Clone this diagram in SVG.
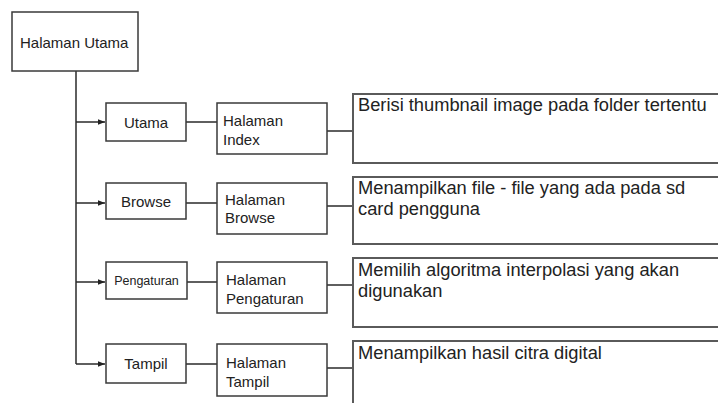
<svg xmlns="http://www.w3.org/2000/svg" width="718" height="403" viewBox="0 0 718 403">
<style>
.box{fill:#fff;stroke:#3a3a3a;stroke-width:1.5}
.desc{fill:#fff;stroke:#5a5a5a;stroke-width:2}
.ln{fill:none;stroke:#2a2a2a;stroke-width:1.5}
.t{font-family:"Liberation Sans",Arial,sans-serif;font-size:15px;fill:#222}
.s{font-size:12.5px}
.d{font-family:"Liberation Sans",Arial,sans-serif;font-size:18.3px;fill:#222}
</style>
<defs>
<marker id="ah" viewBox="0 0 8 8" refX="8" refY="4" markerWidth="7" markerHeight="7" markerUnits="userSpaceOnUse" orient="auto">
<path d="M0,0.8 L8,4 L0,7.2 Z" fill="#222"/>
</marker>
</defs>
<rect width="718" height="403" fill="#fff"/>
<g id="connectors">
<path class="ln" d="M76,71 V364"/>
<path class="ln" d="M76,122 H105" marker-end="url(#ah)"/>
<path class="ln" d="M76,203 H105" marker-end="url(#ah)"/>
<path class="ln" d="M76,282 H105" marker-end="url(#ah)"/>
<path class="ln" d="M76,364 H105" marker-end="url(#ah)"/>
<path class="ln" d="M186,122 H217"/>
<path class="ln" d="M186,203 H217"/>
<path class="ln" d="M187,282 H217"/>
<path class="ln" d="M186,364 H217"/>
<path class="ln" d="M327,131 H353"/>
<path class="ln" d="M327,206 H353"/>
<path class="ln" d="M327,285 H353"/>
<path class="ln" d="M327,368 H353"/>
</g>
<g id="halaman-utama">
<rect class="box" x="12" y="12" width="126" height="59"/>
<text class="t" x="20" y="48">Halaman Utama</text>
</g>
<g id="utama">
<rect class="box" x="106" y="103" width="80" height="38"/>
<text class="t" x="146" y="127.5" text-anchor="middle">Utama</text>
</g>
<g id="halaman-index">
<rect class="box" x="217" y="103" width="110" height="51"/>
<text class="t" x="223" y="126">Halaman</text>
<text class="t" x="223" y="145">Index</text>
</g>
<g id="desc-utama">
<rect class="desc" x="353" y="94" width="380" height="69"/>
<text class="d" x="358" y="111">Berisi thumbnail image pada folder tertentu</text>
</g>
<g id="browse">
<rect class="box" x="106" y="183" width="80" height="36"/>
<text class="t" x="146" y="207" text-anchor="middle">Browse</text>
</g>
<g id="halaman-browse">
<rect class="box" x="217" y="183" width="110" height="51"/>
<text class="t" x="225" y="205">Halaman</text>
<text class="t" x="225" y="223">Browse</text>
</g>
<g id="desc-browse">
<rect class="desc" x="353" y="177" width="380" height="67"/>
<text class="d" x="358" y="194">Menampilkan file - file yang ada pada sd</text>
<text class="d" x="358" y="215">card pengguna</text>
</g>
<g id="pengaturan">
<rect class="box" x="106" y="262" width="81" height="37"/>
<text class="t s" x="146.5" y="285" text-anchor="middle">Pengaturan</text>
</g>
<g id="halaman-pengaturan">
<rect class="box" x="217" y="262" width="110" height="51"/>
<text class="t" x="226" y="285">Halaman</text>
<text class="t" x="226" y="304">Pengaturan</text>
</g>
<g id="desc-pengaturan">
<rect class="desc" x="353" y="258" width="380" height="69"/>
<text class="d" x="358" y="276">Memilih algoritma interpolasi yang akan</text>
<text class="d" x="358" y="297">digunakan</text>
</g>
<g id="tampil">
<rect class="box" x="106" y="344" width="80" height="39"/>
<text class="t" x="146" y="369" text-anchor="middle">Tampil</text>
</g>
<g id="halaman-tampil">
<rect class="box" x="217" y="344" width="110" height="52"/>
<text class="t" x="226" y="368">Halaman</text>
<text class="t" x="226" y="387">Tampil</text>
</g>
<g id="desc-tampil">
<rect class="desc" x="353" y="341" width="380" height="80"/>
<text class="d" x="358" y="359">Menampilkan hasil citra digital</text>
</g>
</svg>
